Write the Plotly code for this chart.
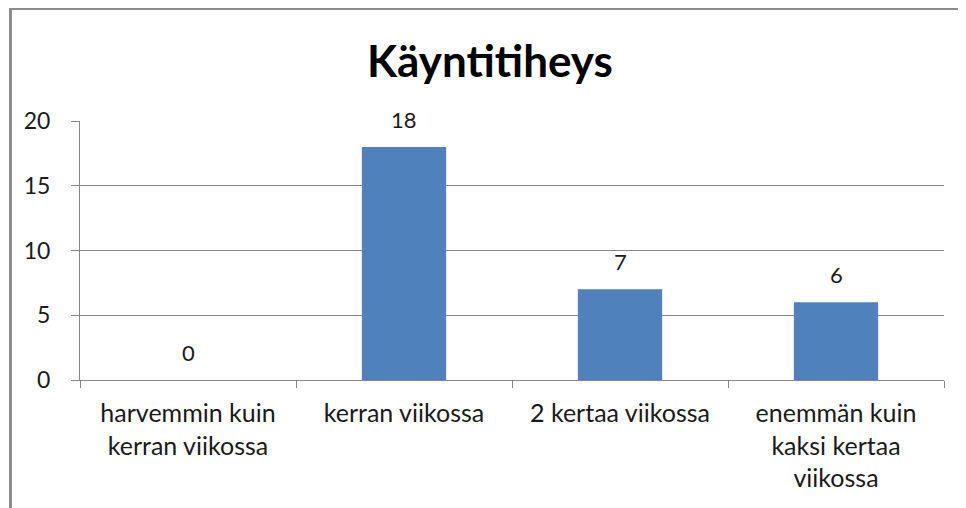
import plotly.graph_objects as go

categories = ["harvemmin kuin<br>kerran viikossa", "kerran viikossa", "2 kertaa viikossa", "enemmän kuin<br>kaksi kertaa<br>viikossa"]
values = [0, 18, 7, 6]
title_text = "Käyntitiheys"
ytick_vals = [0, 5, 10, 15, 20]

# page renders the figure offset by the 8px body margin
OFF = 8
W, H = 966, 508
L, R, T, B = 80 - OFF, 22 + OFF, 121 - OFF, 128 + OFF
pw, ph = W - L - R, H - T - B

FONT = "Lato"
GRID = "#868686"

fig = go.Figure()
fig.add_trace(go.Bar(
    x=categories, y=values,
    marker=dict(color="#4F81BD", line=dict(width=0)),
    width=0.39,
    hoverinfo="skip",
))

for c, v in zip(categories, values):
    fig.add_annotation(x=c, y=v, text=str(v), showarrow=False,
                       yanchor="bottom", yshift=12,
                       font=dict(family=FONT, size=22, color="#1a1a1a"))

fig.add_annotation(xref="paper", yref="paper", x=(490 - OFF - L) / pw, y=(H - B - (60 - OFF)) / ph,
                   text="<b>" + title_text + "</b>", showarrow=False,
                   xanchor="center", yanchor="middle",
                   font=dict(family=FONT, size=44, color="#000000"))

# chart frame
fig.add_shape(type="rect", xref="paper", yref="paper",
              x0=(10.5 - OFF - L) / pw, x1=(W + 20 - L) / pw,
              y0=-(B + 20) / ph, y1=(H - B - (8.5 - OFF)) / ph,
              line=dict(color="#8c8c8c", width=3), layer="below")

fig.update_layout(
    width=W, height=H,
    margin=dict(l=L, r=R, t=T, b=B, pad=0, autoexpand=False),
    paper_bgcolor="white", plot_bgcolor="white",
    showlegend=False,
    font=dict(family=FONT, size=22, color="#1a1a1a"),
    bargap=0.61,
)
fig.update_xaxes(
    showgrid=False, showline=True, linecolor=GRID, linewidth=1,
    ticks="outside", ticklen=7, tickcolor=GRID, tickson="boundaries",
    tickfont=dict(family=FONT, size=25, color="#1a1a1a"),
    ticklabelstandoff=11,
    automargin=False, fixedrange=True,
)
fig.update_yaxes(
    range=[0, 20], tickvals=ytick_vals,
    showgrid=True, gridcolor=GRID, gridwidth=1,
    showline=True, linecolor=GRID, linewidth=1,
    ticks="outside", ticklen=8, tickcolor=GRID,
    tickfont=dict(family=FONT, size=23, color="#1a1a1a"),
    ticklabelstandoff=16,
    zeroline=False, automargin=False, fixedrange=True,
)

fig.write_html("out.html", config={"displayModeBar": False})
